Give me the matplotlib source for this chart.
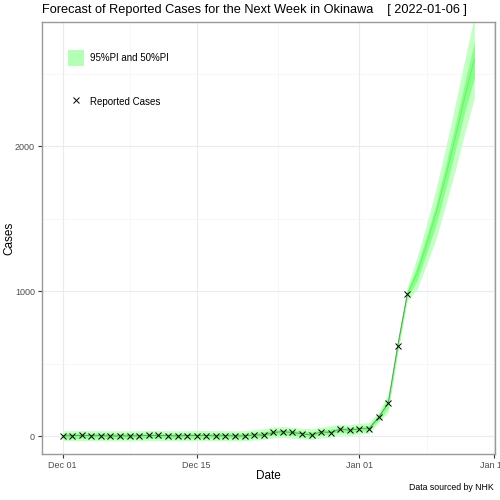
import numpy as np
import pandas as pd
import matplotlib
matplotlib.use('Agg')
import matplotlib.pyplot as plt
import matplotlib.dates as mdates
from matplotlib.patches import Patch
from matplotlib.lines import Line2D

plt.rcParams['font.family'] = ['Liberation Sans', 'DejaVu Sans']

# fechas: historico + una semana de pronostico
dates = pd.date_range('2021-12-01', '2022-01-13')
report_dates = pd.date_range('2021-12-01', '2022-01-06')

reported = [1, 1, 4, 2, 2, 0, 1, 1, 1, 4, 4, 2, 0, 3, 3, 3, 1, 2, 1, 0,
            9, 4, 25, 30, 25, 16, 5, 30, 23, 49, 39,
            51, 49, 130, 225, 623, 981]

median = [2, 2, 3, 2, 2, 1, 1, 1, 2, 3, 3, 2, 1, 2, 3, 3, 2, 2, 1, 2,
          7, 12, 24, 28, 23, 15, 12, 25, 30, 45, 40,
          50, 55, 128, 228, 622, 981,
          1120, 1320, 1540, 1790, 2060, 2340, 2600]

hi95 = [37, 37, 38, 37, 37, 36, 36, 36, 37, 38, 38, 37, 36, 37, 38, 38, 37, 37, 36, 37,
        44, 50, 62, 66, 60, 52, 50, 62, 70, 82, 76,
        88, 92, 165, 295, 680, 1030,
        1230, 1460, 1710, 1990, 2290, 2600, 2900]
lo95 = [-33, -33, -32, -33, -33, -34, -34, -34, -33, -32, -32, -33, -34, -33, -32, -32, -33, -33, -34, -33,
        -28, -24, -12, -8, -14, -20, -24, -12, -8, 8, 4,
        14, 18, 95, 165, 570, 935,
        1010, 1180, 1360, 1590, 1830, 2090, 2330]
hi50 = [19, 19, 20, 19, 19, 18, 18, 18, 19, 20, 20, 19, 18, 19, 20, 20, 19, 19, 18, 19,
        24, 29, 41, 45, 40, 32, 29, 42, 47, 62, 57,
        67, 72, 148, 262, 650, 1005,
        1170, 1380, 1600, 1870, 2150, 2440, 2720]
lo50 = [-15, -15, -14, -15, -15, -16, -16, -16, -15, -14, -14, -15, -16, -15, -14, -14, -15, -15, -16, -15,
        -10, -5, 7, 11, 6, -2, -5, 8, 13, 28, 23,
        33, 38, 108, 194, 594, 957,
        1070, 1260, 1460, 1710, 1970, 2240, 2470]

xticks = pd.to_datetime(['2021-12-01', '2021-12-15', '2022-01-01', '2022-01-15'])
xtick_labels = ['Dec 01', 'Dec 15', 'Jan 01', 'Jan 15']
minor_x = pd.to_datetime(['2021-12-08', '2021-12-23T12:00', '2022-01-08'], format='ISO8601')
yticks = [0, 1000, 2000]

fig = plt.figure(figsize=(5, 5), dpi=100)
ax = fig.add_axes([0.084, 0.092, 0.906, 0.864])

ax.fill_between(dates, lo95, hi95, color='#c4ffc4', lw=0, zorder=2)
ax.fill_between(dates, lo50, hi50, color='#88ff88', lw=0, zorder=3)
ax.plot(dates, median, color='#66ee66', lw=0.6, zorder=4)
ax.plot(report_dates, reported, color='#777777', lw=0.5, zorder=5)
ax.plot(report_dates, reported, ls='none', marker='x', color='black',
        ms=5, mew=0.7, zorder=6)

span = dates[-1] - dates[0]
ax.set_xlim(dates[0] - span * 0.05, dates[-1] + span * 0.05)
ax.set_ylim(-124, 2856)

ax.set_xticks(xticks)
ax.set_xticklabels(xtick_labels)
ax.set_xticks(minor_x, minor=True)
ax.set_yticks(yticks)
ax.set_yticks([500, 1500, 2500], minor=True)

ax.grid(True, which='major', color='#ebebeb', lw=0.8, zorder=0)
ax.grid(True, which='minor', color='#f4f4f4', lw=0.5, zorder=0)
ax.set_axisbelow(True)
ax.tick_params(which='major', length=3, color='#333333', labelsize=6.5,
               labelcolor='#4d4d4d', pad=2)
ax.tick_params(which='minor', length=0)
for s in ax.spines.values():
    s.set_color('#999999')
    s.set_linewidth(1)

ax.set_xlabel('Date', fontsize=8.5, va='center')
ax.set_ylabel('Cases', fontsize=8.5, va='center')
ax.xaxis.set_label_coords(0.5, -0.051)
ax.yaxis.set_label_coords(-0.071, 0.5)

fig.text(0.084, 0.98, 'Forecast of Reported Cases for the Next Week in Okinawa    [ 2022-01-06 ]',
         fontsize=9.2, ha='left', va='center')
fig.text(0.988, 0.024, 'Data sourced by NHK', fontsize=6.3, ha='right', va='center')

handles = [Patch(facecolor='#b3ffb3', edgecolor='none'),
           Line2D([], [], ls='none', marker='x', color='black', ms=5, mew=0.7)]
ax.legend(handles, ['95%PI and 50%PI', 'Reported Cases'], loc='upper left',
          bbox_to_anchor=(0.057, 0.935), frameon=False, fontsize=7,
          borderpad=0, borderaxespad=0, labelspacing=2.9,
          handlelength=1.65, handleheight=2.15, handletextpad=0.6)

fig.savefig('out.png', dpi=100)
